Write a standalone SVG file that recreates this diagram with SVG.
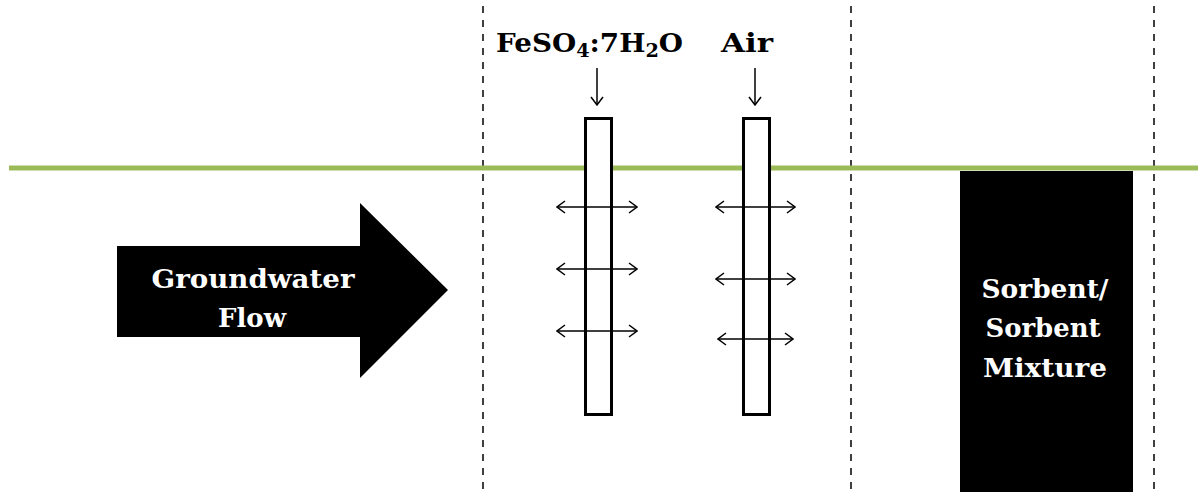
<svg xmlns="http://www.w3.org/2000/svg" width="1198" height="493" viewBox="0 0 1198 493">
<style>
.dash{stroke:#000;stroke-width:1.5;stroke-dasharray:7,7;fill:none}
.tube{fill:#fff;stroke:#000;stroke-width:3}
.con{stroke:#000;stroke-width:1.5;fill:none}
.lbl{font-family:"DejaVu Serif","Liberation Serif",serif;font-weight:bold;font-size:26px}
.wht{fill:#fff;text-anchor:middle}
</style>
<defs>
<marker id="ah" viewBox="0 0 10 14" refX="9" refY="7" markerWidth="10" markerHeight="14" markerUnits="userSpaceOnUse" orient="auto-start-reverse">
<path d="M1,1 L9,7 L1,13" fill="none" stroke="#000" stroke-width="1.5"/>
</marker>
</defs>
<rect width="1198" height="493" fill="#fff"/>
<g id="boundaries">
<line class="dash" x1="483" y1="6" x2="483" y2="493"/>
<line class="dash" x1="851" y1="6" x2="851" y2="493"/>
<line class="dash" x1="1154" y1="6" x2="1154" y2="493"/>
</g>
<g id="ground-surface">
<line x1="9" y1="168" x2="1198" y2="168" stroke="#9BBB59" stroke-width="5"/>
</g>
<g id="sorbent">
<rect x="960" y="171" width="173" height="321" fill="#000"/>
<text class="lbl wht" x="1045" y="298" textLength="127" lengthAdjust="spacingAndGlyphs">Sorbent/</text>
<text class="lbl wht" x="1043" y="337" textLength="115" lengthAdjust="spacingAndGlyphs">Sorbent</text>
<text class="lbl wht" x="1045" y="377" textLength="124" lengthAdjust="spacingAndGlyphs">Mixture</text>
</g>
<g id="groundwater-flow">
<path d="M117,246 L360,246 L360,203 L448,290 L360,378 L360,337 L117,337 Z" fill="#000"/>
<text class="lbl wht" x="253" y="288" textLength="203" lengthAdjust="spacingAndGlyphs">Groundwater</text>
<text class="lbl wht" x="252" y="327" textLength="68" lengthAdjust="spacingAndGlyphs">Flow</text>
</g>
<g id="feso4-well">
<rect class="tube" x="585.5" y="118.5" width="26" height="296"/>
<text class="lbl" x="496" y="52" textLength="187" lengthAdjust="spacingAndGlyphs">FeSO<tspan font-size="18" dy="5">4</tspan><tspan dy="-5">:7H</tspan><tspan font-size="18" dy="5">2</tspan><tspan dy="-5">O</tspan></text>
</g>
<g id="air-well">
<rect class="tube" x="743.5" y="118.5" width="26" height="296"/>
<text class="lbl" x="721" y="52" textLength="52" lengthAdjust="spacingAndGlyphs">Air</text>
</g>
<g id="connectors">
<line class="con" x1="597" y1="68" x2="597" y2="105" marker-end="url(#ah)"/>
<line class="con" x1="755" y1="68" x2="755" y2="105" marker-end="url(#ah)"/>
<line class="con" x1="557" y1="207" x2="637" y2="207" marker-start="url(#ah)" marker-end="url(#ah)"/>
<line class="con" x1="557" y1="269" x2="637" y2="269" marker-start="url(#ah)" marker-end="url(#ah)"/>
<line class="con" x1="557" y1="331" x2="637" y2="331" marker-start="url(#ah)" marker-end="url(#ah)"/>
<line class="con" x1="716" y1="207" x2="795" y2="207" marker-start="url(#ah)" marker-end="url(#ah)"/>
<line class="con" x1="716" y1="279" x2="795" y2="279" marker-start="url(#ah)" marker-end="url(#ah)"/>
<line class="con" x1="718" y1="339" x2="793" y2="339" marker-start="url(#ah)" marker-end="url(#ah)"/>
</g>
</svg>
